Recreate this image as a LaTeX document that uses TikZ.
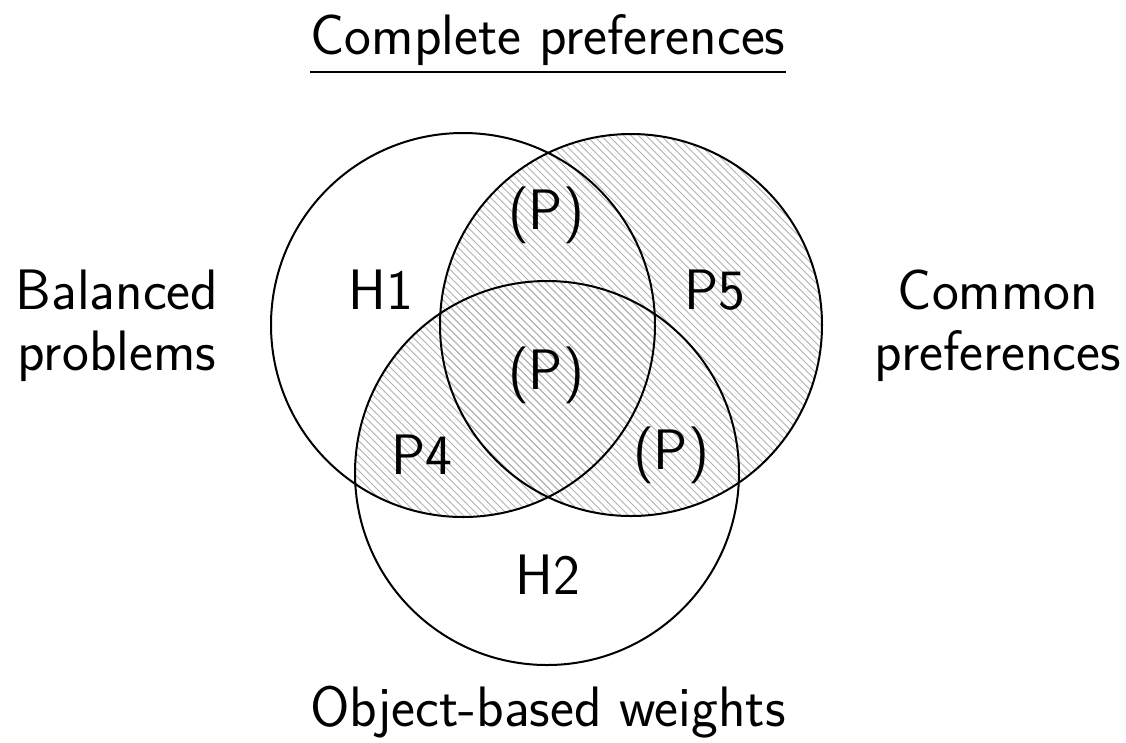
\documentclass[tikz,border=0pt]{standalone}
\usetikzlibrary{patterns}
\tikzset{every picture/.style={line width=0.8pt}}
\tikzset{hatch/.style={pattern=north west lines, pattern color=gray!60}}

\begin{document}
\begin{tikzpicture}[x=0.4pt,y=0.4pt,yscale=-1,xscale=1,font=\sffamily\fontsize{22.8}{24.5}\selectfont]
\useasboundingbox (0,0) rectangle (1126,742);

%Circle centres
\coordinate (cb) at (463,325);
\coordinate (cc) at (631,325);
\coordinate (co) at (547,473);

%Hatched part: common preferences, and balanced with object-based
\fill [hatch] (cc) circle [radius=191];
\begin{scope}
\clip (cb) circle [radius=192];
\fill [hatch] (co) circle [radius=192];
\end{scope}

%Circles
\draw (cb) circle [radius=192];
\draw (cc) circle [radius=191];
\draw (co) circle [radius=192];

%Set names
\node [inner xsep=0pt] (complete) at (548,40) {Complete preferences};
\draw [line width=1.1pt] ([yshift=7pt]complete.base west) -- ([yshift=7pt]complete.base east);
\node [align=center] (balanced) at (117,326) {Balanced\\problems};
\node [align=center] (common) at (998,326) {Common\\preferences};
\node (objects) at (548,712) {Object-based weights};

%Region labels
\node (h1) at (381,290) {H1};
\node (ptop) at (546,215) {(P)};
\node (p5) at (715,290) {P5};
\node (pmid) at (546,375) {(P)};
\node (p4) at (422,455) {P4};
\node (pright) at (671,455) {(P)};
\node (h2) at (548,575) {H2};

\end{tikzpicture}
\end{document}
